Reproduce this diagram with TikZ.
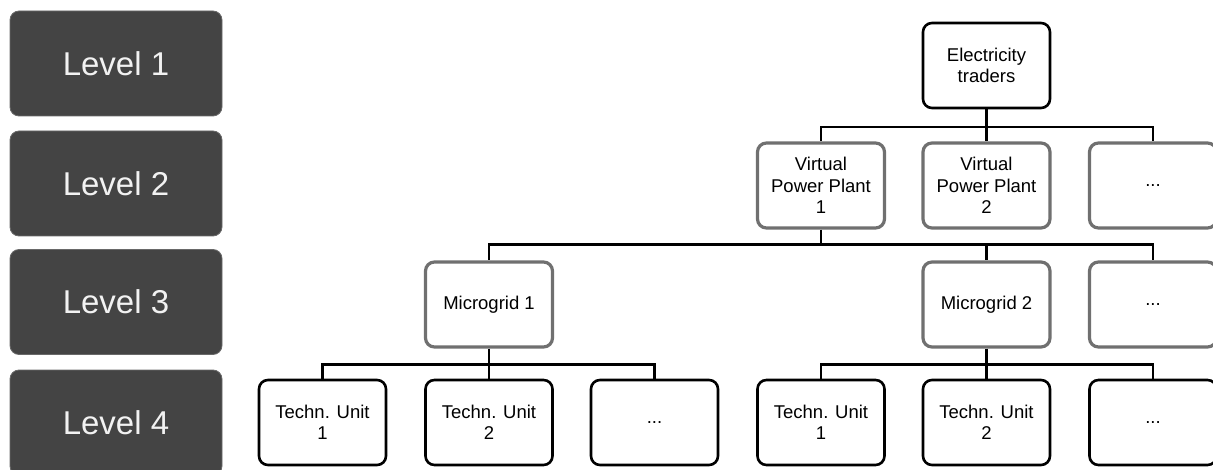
\documentclass[tikz,border=0pt]{standalone}
\usepackage{fontspec}
\setmainfont{Liberation Sans}
\definecolor{lvlfill}{HTML}{444444}
\definecolor{lvltext}{HTML}{F2F2F2}
\definecolor{graybd}{HTML}{707070}
\begin{document}
\begin{tikzpicture}[x=1pt,y=-1pt,
  lvl/.style={draw=lvlfill!80!white, line width=0.8pt, fill=lvlfill, rounded corners=9pt,
    minimum width=212pt, minimum height=105pt, inner sep=0pt,
    text=lvltext, font=\fontsize{33}{36}\selectfont},
  blk/.style={draw=black, line width=2.6pt, fill=white, rounded corners=9pt,
    minimum width=127pt, minimum height=85pt, inner sep=0pt, align=center,
    font=\fontsize{18.5}{21.5}\selectfont},
  gry/.style={blk, draw=graybd, line width=3.2pt},
  conn/.style={draw=black, line width=2.4pt}]
\useasboundingbox (0,0) rectangle (1213,470);
% level labels
\node[lvl] (l1) at (116,63.5) {Level 1};
\node[lvl] (l2) at (116,183.5) {Level 2};
\node[lvl] (l3) at (116,302) {Level 3};
\node[lvl] (l4) at (116,422.5) {Level 4};
% level 1
\node[blk] (et) at (986.5,65.5) {Electricity\\traders};
% level 2
\node[gry] (v1) at (821,185.5) {Virtual\\Power Plant\\1};
\node[gry] (v2) at (986.5,185.5) {Virtual\\Power Plant\\2};
\node[gry] (v3) at (1153,185.5) {...};
% level 3
\node[gry] (m1) at (489,304.5) {Microgrid 1};
\node[gry] (m2) at (986.5,304.5) {Microgrid 2};
\node[gry] (m3) at (1153,304.5) {...};
% level 4
\node[blk] (t1) at (322.5,422.5) {Techn. Unit\\1};
\node[blk] (t2) at (489,422.5) {Techn. Unit\\2};
\node[blk] (t3) at (654.5,422.5) {...};
\node[blk] (u1) at (821,422.5) {Techn. Unit\\1};
\node[blk] (u2) at (986.5,422.5) {Techn. Unit\\2};
\node[blk] (u3) at (1153,422.5) {...};
% bus coordinates
\coordinate (b1) at ([yshift=-18pt]et.south);
\coordinate (b2) at ([yshift=-15pt]v1.south);
\coordinate (b3) at ([yshift=-16pt]m1.south);
\coordinate (b4) at ([yshift=-16pt]m2.south);
% connectors
\draw[conn] (et.south) -- (b1) -| (v1.north);
\draw[conn] (b1) -| (v2.north);
\draw[conn] (b1) -| (v3.north);
\draw[conn] (v1.south) -- (b2) -| (m1.north);
\draw[conn] (b2) -| (m2.north);
\draw[conn] (b2) -| (m3.north);
\draw[conn] (m1.south) -- (b3) -| (t1.north);
\draw[conn] (b3) -| (t2.north);
\draw[conn] (b3) -| (t3.north);
\draw[conn] (m2.south) -- (b4) -| (u1.north);
\draw[conn] (b4) -| (u2.north);
\draw[conn] (b4) -| (u3.north);
\end{tikzpicture}
\end{document}
